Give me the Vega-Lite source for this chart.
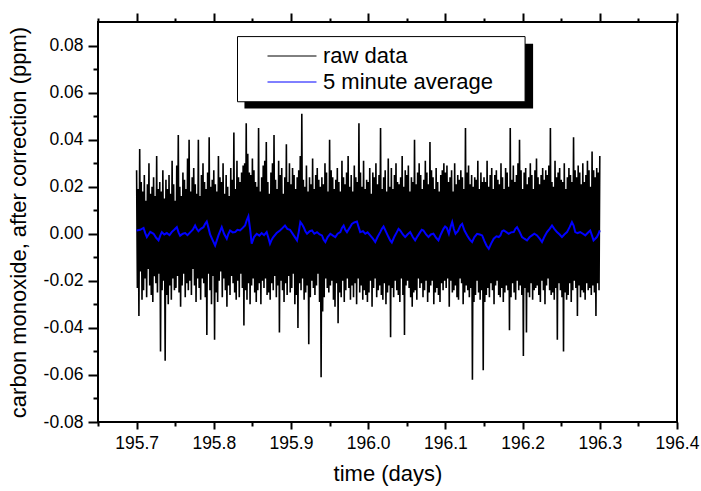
{
"$schema": "https://vega.github.io/schema/vega-lite/v6.json",
"width": 579, "height": 400,
"autosize": {"type": "none"},
"padding": {"left": 98, "top": 22, "right": 24, "bottom": 69},
"background": "white",
"config": {
 "font": "Liberation Sans",
 "view": {"stroke": "black", "strokeWidth": 2},
 "axis": {"labelFont": "Liberation Sans", "labelFontSize": 17.5, "labelColor": "black", "tickColor": "black", "tickWidth": 2, "grid": false, "domain": false, "titleFont": "Liberation Sans", "titleFontSize": 22, "titleFontWeight": "normal", "titleColor": "black", "labelOverlap": false, "labelFlush": false},
 "legend": {"labelFont": "Liberation Sans"}
},
"datasets": {
"raw": [
{"t":195.700,"v":0.027},{"t":195.701,"v":-0.023},{"t":195.702,"v":0.019},{"t":195.703,"v":-0.035},{"t":195.704,"v":0.036},{"t":195.705,"v":-0.016},{"t":195.706,"v":0.022},{"t":195.707,"v":-0.028},{"t":195.708,"v":0.018},{"t":195.709,"v":-0.024},
{"t":195.710,"v":0.025},{"t":195.711,"v":-0.019},{"t":195.712,"v":0.014},{"t":195.713,"v":-0.027},{"t":195.714,"v":0.021},{"t":195.715,"v":-0.015},{"t":195.716,"v":0.030},{"t":195.717,"v":-0.022},{"t":195.718,"v":0.017},{"t":195.719,"v":-0.026},
{"t":195.720,"v":0.020},{"t":195.721,"v":-0.029},{"t":195.722,"v":0.024},{"t":195.723,"v":-0.018},{"t":195.724,"v":0.016},{"t":195.725,"v":-0.021},{"t":195.726,"v":0.033},{"t":195.727,"v":-0.025},{"t":195.728,"v":0.019},{"t":195.729,"v":-0.017},
{"t":195.730,"v":0.022},{"t":195.731,"v":-0.050},{"t":195.732,"v":0.018},{"t":195.733,"v":-0.024},{"t":195.734,"v":0.027},{"t":195.735,"v":-0.020},{"t":195.736,"v":0.015},{"t":195.737,"v":-0.054},{"t":195.738,"v":0.023},{"t":195.739,"v":-0.026},
{"t":195.740,"v":0.019},{"t":195.741,"v":-0.030},{"t":195.742,"v":0.025},{"t":195.743,"v":-0.022},{"t":195.744,"v":0.017},{"t":195.745,"v":-0.028},{"t":195.746,"v":0.031},{"t":195.747,"v":-0.019},{"t":195.748,"v":0.021},{"t":195.749,"v":-0.024},
{"t":195.750,"v":0.014},{"t":195.751,"v":-0.023},{"t":195.752,"v":0.029},{"t":195.753,"v":-0.018},{"t":195.754,"v":0.042},{"t":195.755,"v":-0.025},{"t":195.756,"v":0.020},{"t":195.757,"v":-0.031},{"t":195.758,"v":0.016},{"t":195.759,"v":-0.022},
{"t":195.760,"v":0.026},{"t":195.761,"v":-0.017},{"t":195.762,"v":0.023},{"t":195.763,"v":-0.027},{"t":195.764,"v":0.019},{"t":195.765,"v":-0.021},{"t":195.766,"v":0.032},{"t":195.767,"v":-0.024},{"t":195.768,"v":0.040},{"t":195.769,"v":-0.020},
{"t":195.770,"v":0.018},{"t":195.771,"v":-0.026},{"t":195.772,"v":0.024},{"t":195.773,"v":-0.015},{"t":195.774,"v":0.028},{"t":195.775,"v":-0.022},{"t":195.776,"v":0.021},{"t":195.777,"v":-0.029},{"t":195.778,"v":0.017},{"t":195.779,"v":-0.019},
{"t":195.780,"v":0.040},{"t":195.781,"v":-0.023},{"t":195.782,"v":0.016},{"t":195.783,"v":-0.028},{"t":195.784,"v":0.025},{"t":195.785,"v":-0.019},{"t":195.786,"v":0.030},{"t":195.787,"v":-0.021},{"t":195.788,"v":0.022},{"t":195.789,"v":-0.027},
{"t":195.790,"v":0.019},{"t":195.791,"v":-0.043},{"t":195.792,"v":0.026},{"t":195.793,"v":-0.017},{"t":195.794,"v":0.041},{"t":195.795,"v":-0.024},{"t":195.796,"v":0.020},{"t":195.797,"v":-0.030},{"t":195.798,"v":0.023},{"t":195.799,"v":-0.018},
{"t":195.800,"v":0.027},{"t":195.801,"v":-0.045},{"t":195.802,"v":0.021},{"t":195.803,"v":-0.025},{"t":195.804,"v":0.018},{"t":195.805,"v":-0.029},{"t":195.806,"v":0.033},{"t":195.807,"v":-0.020},{"t":195.808,"v":0.024},{"t":195.809,"v":-0.016},
{"t":195.810,"v":0.022},{"t":195.811,"v":-0.027},{"t":195.812,"v":0.030},{"t":195.813,"v":-0.019},{"t":195.814,"v":0.017},{"t":195.815,"v":-0.024},{"t":195.816,"v":0.025},{"t":195.817,"v":-0.031},{"t":195.818,"v":0.020},{"t":195.819,"v":-0.022},
{"t":195.820,"v":0.016},{"t":195.821,"v":-0.026},{"t":195.822,"v":0.028},{"t":195.823,"v":-0.018},{"t":195.824,"v":0.023},{"t":195.825,"v":-0.021},{"t":195.826,"v":0.043},{"t":195.827,"v":-0.025},{"t":195.828,"v":0.019},{"t":195.829,"v":-0.028},
{"t":195.830,"v":0.031},{"t":195.831,"v":-0.020},{"t":195.832,"v":0.024},{"t":195.833,"v":-0.027},{"t":195.834,"v":0.022},{"t":195.835,"v":-0.017},{"t":195.836,"v":0.026},{"t":195.837,"v":-0.023},{"t":195.838,"v":0.029},{"t":195.839,"v":-0.039},
{"t":195.840,"v":0.030},{"t":195.841,"v":-0.024},{"t":195.842,"v":0.047},{"t":195.843,"v":-0.028},{"t":195.844,"v":0.034},{"t":195.845,"v":-0.021},{"t":195.846,"v":0.026},{"t":195.847,"v":-0.030},{"t":195.848,"v":0.025},{"t":195.849,"v":-0.022},
{"t":195.850,"v":0.032},{"t":195.851,"v":-0.019},{"t":195.852,"v":0.027},{"t":195.853,"v":-0.025},{"t":195.854,"v":0.022},{"t":195.855,"v":-0.029},{"t":195.856,"v":0.020},{"t":195.857,"v":-0.024},{"t":195.858,"v":0.045},{"t":195.859,"v":-0.021},
{"t":195.860,"v":0.018},{"t":195.861,"v":-0.030},{"t":195.862,"v":0.024},{"t":195.863,"v":-0.020},{"t":195.864,"v":0.029},{"t":195.865,"v":-0.023},{"t":195.866,"v":0.031},{"t":195.867,"v":-0.019},{"t":195.868,"v":0.039},{"t":195.869,"v":-0.026},
{"t":195.870,"v":0.022},{"t":195.871,"v":-0.025},{"t":195.872,"v":0.017},{"t":195.873,"v":-0.028},{"t":195.874,"v":0.026},{"t":195.875,"v":-0.021},{"t":195.876,"v":0.030},{"t":195.877,"v":-0.024},{"t":195.878,"v":0.042},{"t":195.879,"v":-0.018},
{"t":195.880,"v":0.023},{"t":195.881,"v":-0.027},{"t":195.882,"v":0.019},{"t":195.883,"v":-0.022},{"t":195.884,"v":0.031},{"t":195.885,"v":-0.042},{"t":195.886,"v":0.025},{"t":195.887,"v":-0.020},{"t":195.888,"v":0.028},{"t":195.889,"v":-0.024},
{"t":195.890,"v":0.017},{"t":195.891,"v":-0.029},{"t":195.892,"v":0.024},{"t":195.893,"v":-0.021},{"t":195.894,"v":0.038},{"t":195.895,"v":-0.026},{"t":195.896,"v":0.022},{"t":195.897,"v":-0.018},{"t":195.898,"v":0.030},{"t":195.899,"v":-0.025},
{"t":195.900,"v":0.021},{"t":195.901,"v":-0.023},{"t":195.902,"v":0.028},{"t":195.903,"v":-0.017},{"t":195.904,"v":0.025},{"t":195.905,"v":-0.030},{"t":195.906,"v":0.019},{"t":195.907,"v":-0.026},{"t":195.908,"v":0.024},{"t":195.909,"v":-0.040},
{"t":195.910,"v":0.027},{"t":195.911,"v":-0.021},{"t":195.912,"v":0.033},{"t":195.913,"v":-0.024},{"t":195.914,"v":0.051},{"t":195.915,"v":-0.019},{"t":195.916,"v":0.023},{"t":195.917,"v":-0.028},{"t":195.918,"v":0.020},{"t":195.919,"v":-0.025},
{"t":195.920,"v":0.029},{"t":195.921,"v":-0.022},{"t":195.922,"v":0.018},{"t":195.923,"v":-0.047},{"t":195.924,"v":0.024},{"t":195.925,"v":-0.027},{"t":195.926,"v":0.021},{"t":195.927,"v":-0.020},{"t":195.928,"v":0.032},{"t":195.929,"v":-0.023},
{"t":195.930,"v":0.019},{"t":195.931,"v":-0.026},{"t":195.932,"v":0.025},{"t":195.933,"v":-0.022},{"t":195.934,"v":0.028},{"t":195.935,"v":-0.017},{"t":195.936,"v":0.023},{"t":195.937,"v":-0.029},{"t":195.938,"v":0.020},{"t":195.939,"v":-0.061},
{"t":195.940,"v":0.024},{"t":195.941,"v":-0.033},{"t":195.942,"v":0.021},{"t":195.943,"v":-0.027},{"t":195.944,"v":0.030},{"t":195.945,"v":-0.019},{"t":195.946,"v":0.026},{"t":195.947,"v":-0.023},{"t":195.948,"v":0.018},{"t":195.949,"v":-0.025},
{"t":195.950,"v":0.040},{"t":195.951,"v":-0.022},{"t":195.952,"v":0.027},{"t":195.953,"v":-0.020},{"t":195.954,"v":0.024},{"t":195.955,"v":-0.028},{"t":195.956,"v":0.019},{"t":195.957,"v":-0.031},{"t":195.958,"v":0.023},{"t":195.959,"v":-0.021},
{"t":195.960,"v":0.028},{"t":195.961,"v":-0.038},{"t":195.962,"v":0.022},{"t":195.963,"v":-0.025},{"t":195.964,"v":0.018},{"t":195.965,"v":-0.027},{"t":195.966,"v":0.031},{"t":195.967,"v":-0.020},{"t":195.968,"v":0.024},{"t":195.969,"v":-0.029},
{"t":195.970,"v":0.021},{"t":195.971,"v":-0.024},{"t":195.972,"v":0.026},{"t":195.973,"v":-0.019},{"t":195.974,"v":0.033},{"t":195.975,"v":-0.023},{"t":195.976,"v":0.020},{"t":195.977,"v":-0.028},{"t":195.978,"v":0.025},{"t":195.979,"v":-0.022},
{"t":195.980,"v":0.018},{"t":195.981,"v":-0.027},{"t":195.982,"v":0.029},{"t":195.983,"v":-0.021},{"t":195.984,"v":0.024},{"t":195.985,"v":-0.030},{"t":195.986,"v":0.022},{"t":195.987,"v":-0.019},{"t":195.988,"v":0.047},{"t":195.989,"v":-0.025},
{"t":195.990,"v":0.026},{"t":195.991,"v":-0.022},{"t":195.992,"v":0.020},{"t":195.993,"v":-0.028},{"t":195.994,"v":0.031},{"t":195.995,"v":-0.024},{"t":195.996,"v":0.019},{"t":195.997,"v":-0.026},{"t":195.998,"v":0.023},{"t":195.999,"v":-0.029},
{"t":196.000,"v":0.022},{"t":196.001,"v":-0.025},{"t":196.002,"v":0.028},{"t":196.003,"v":-0.020},{"t":196.004,"v":0.017},{"t":196.005,"v":-0.031},{"t":196.006,"v":0.026},{"t":196.007,"v":-0.023},{"t":196.008,"v":0.024},{"t":196.009,"v":-0.019},
{"t":196.010,"v":0.030},{"t":196.011,"v":-0.027},{"t":196.012,"v":0.021},{"t":196.013,"v":-0.024},{"t":196.014,"v":0.025},{"t":196.015,"v":-0.022},{"t":196.016,"v":0.045},{"t":196.017,"v":-0.026},{"t":196.018,"v":0.019},{"t":196.019,"v":-0.028},
{"t":196.020,"v":0.024},{"t":196.021,"v":-0.021},{"t":196.022,"v":0.027},{"t":196.023,"v":-0.030},{"t":196.024,"v":0.018},{"t":196.025,"v":-0.025},{"t":196.026,"v":0.032},{"t":196.027,"v":-0.022},{"t":196.028,"v":0.020},{"t":196.029,"v":-0.044},
{"t":196.030,"v":0.028},{"t":196.031,"v":-0.023},{"t":196.032,"v":0.019},{"t":196.033,"v":-0.027},{"t":196.034,"v":0.025},{"t":196.035,"v":-0.020},{"t":196.036,"v":0.030},{"t":196.037,"v":-0.024},{"t":196.038,"v":0.022},{"t":196.039,"v":-0.026},
{"t":196.040,"v":0.021},{"t":196.041,"v":-0.029},{"t":196.042,"v":0.024},{"t":196.043,"v":-0.019},{"t":196.044,"v":0.033},{"t":196.045,"v":-0.026},{"t":196.046,"v":0.020},{"t":196.047,"v":-0.043},{"t":196.048,"v":0.027},{"t":196.049,"v":-0.022},
{"t":196.050,"v":0.025},{"t":196.051,"v":-0.020},{"t":196.052,"v":0.029},{"t":196.053,"v":-0.023},{"t":196.054,"v":0.018},{"t":196.055,"v":-0.027},{"t":196.056,"v":0.024},{"t":196.057,"v":-0.031},{"t":196.058,"v":0.022},{"t":196.059,"v":-0.025},
{"t":196.060,"v":0.040},{"t":196.061,"v":-0.024},{"t":196.062,"v":0.021},{"t":196.063,"v":-0.028},{"t":196.064,"v":0.026},{"t":196.065,"v":-0.019},{"t":196.066,"v":0.030},{"t":196.067,"v":-0.023},{"t":196.068,"v":0.025},{"t":196.069,"v":-0.021},
{"t":196.070,"v":0.019},{"t":196.071,"v":-0.027},{"t":196.072,"v":0.023},{"t":196.073,"v":-0.024},{"t":196.074,"v":0.031},{"t":196.075,"v":-0.020},{"t":196.076,"v":0.026},{"t":196.077,"v":-0.029},{"t":196.078,"v":0.021},{"t":196.079,"v":-0.025},
{"t":196.080,"v":0.039},{"t":196.081,"v":-0.022},{"t":196.082,"v":0.027},{"t":196.083,"v":-0.020},{"t":196.084,"v":0.024},{"t":196.085,"v":-0.030},{"t":196.086,"v":0.019},{"t":196.087,"v":-0.025},{"t":196.088,"v":0.028},{"t":196.089,"v":-0.023},
{"t":196.090,"v":0.022},{"t":196.091,"v":-0.026},{"t":196.092,"v":0.018},{"t":196.093,"v":-0.029},{"t":196.094,"v":0.025},{"t":196.095,"v":-0.021},{"t":196.096,"v":0.027},{"t":196.097,"v":-0.024},{"t":196.098,"v":0.030},{"t":196.099,"v":-0.020},
{"t":196.100,"v":0.026},{"t":196.101,"v":-0.023},{"t":196.102,"v":0.029},{"t":196.103,"v":-0.019},{"t":196.104,"v":0.022},{"t":196.105,"v":-0.031},{"t":196.106,"v":0.024},{"t":196.107,"v":-0.020},{"t":196.108,"v":0.027},{"t":196.109,"v":-0.025},
{"t":196.110,"v":0.018},{"t":196.111,"v":-0.024},{"t":196.112,"v":0.030},{"t":196.113,"v":-0.022},{"t":196.114,"v":0.021},{"t":196.115,"v":-0.027},{"t":196.116,"v":0.025},{"t":196.117,"v":-0.028},{"t":196.118,"v":0.023},{"t":196.119,"v":-0.019},
{"t":196.120,"v":0.027},{"t":196.121,"v":-0.021},{"t":196.122,"v":0.024},{"t":196.123,"v":-0.030},{"t":196.124,"v":0.019},{"t":196.125,"v":-0.025},{"t":196.126,"v":0.045},{"t":196.127,"v":-0.022},{"t":196.128,"v":0.026},{"t":196.129,"v":-0.024},
{"t":196.130,"v":0.029},{"t":196.131,"v":-0.027},{"t":196.132,"v":0.021},{"t":196.133,"v":-0.023},{"t":196.134,"v":0.025},{"t":196.135,"v":-0.062},{"t":196.136,"v":0.020},{"t":196.137,"v":-0.029},{"t":196.138,"v":0.024},{"t":196.139,"v":-0.026},
{"t":196.140,"v":0.023},{"t":196.141,"v":-0.020},{"t":196.142,"v":0.031},{"t":196.143,"v":-0.025},{"t":196.144,"v":0.019},{"t":196.145,"v":-0.028},{"t":196.146,"v":0.026},{"t":196.147,"v":-0.024},{"t":196.148,"v":0.022},{"t":196.149,"v":-0.058},
{"t":196.150,"v":0.024},{"t":196.151,"v":-0.029},{"t":196.152,"v":0.022},{"t":196.153,"v":-0.026},{"t":196.154,"v":0.031},{"t":196.155,"v":-0.023},{"t":196.156,"v":0.020},{"t":196.157,"v":-0.027},{"t":196.158,"v":0.025},{"t":196.159,"v":-0.021},
{"t":196.160,"v":0.028},{"t":196.161,"v":-0.024},{"t":196.162,"v":0.019},{"t":196.163,"v":-0.030},{"t":196.164,"v":0.025},{"t":196.165,"v":-0.022},{"t":196.166,"v":0.027},{"t":196.167,"v":-0.020},{"t":196.168,"v":0.023},{"t":196.169,"v":-0.026},
{"t":196.170,"v":0.021},{"t":196.171,"v":-0.027},{"t":196.172,"v":0.030},{"t":196.173,"v":-0.023},{"t":196.174,"v":0.024},{"t":196.175,"v":-0.029},{"t":196.176,"v":0.019},{"t":196.177,"v":-0.025},{"t":196.178,"v":0.028},{"t":196.179,"v":-0.022},
{"t":196.180,"v":0.026},{"t":196.181,"v":-0.024},{"t":196.182,"v":0.020},{"t":196.183,"v":-0.041},{"t":196.184,"v":0.045},{"t":196.185,"v":-0.027},{"t":196.186,"v":0.023},{"t":196.187,"v":-0.021},{"t":196.188,"v":0.029},{"t":196.189,"v":-0.025},
{"t":196.190,"v":0.022},{"t":196.191,"v":-0.028},{"t":196.192,"v":0.025},{"t":196.193,"v":-0.020},{"t":196.194,"v":0.030},{"t":196.195,"v":-0.024},{"t":196.196,"v":0.040},{"t":196.197,"v":-0.022},{"t":196.198,"v":0.027},{"t":196.199,"v":-0.026},
{"t":196.200,"v":0.019},{"t":196.201,"v":-0.052},{"t":196.202,"v":0.026},{"t":196.203,"v":-0.023},{"t":196.204,"v":0.028},{"t":196.205,"v":-0.042},{"t":196.206,"v":0.021},{"t":196.207,"v":-0.025},{"t":196.208,"v":0.024},{"t":196.209,"v":-0.027},
{"t":196.210,"v":0.030},{"t":196.211,"v":-0.021},{"t":196.212,"v":0.025},{"t":196.213,"v":-0.028},{"t":196.214,"v":0.019},{"t":196.215,"v":-0.024},{"t":196.216,"v":0.027},{"t":196.217,"v":-0.023},{"t":196.218,"v":0.032},{"t":196.219,"v":-0.022},
{"t":196.220,"v":0.024},{"t":196.221,"v":-0.026},{"t":196.222,"v":0.021},{"t":196.223,"v":-0.029},{"t":196.224,"v":0.025},{"t":196.225,"v":-0.020},{"t":196.226,"v":0.028},{"t":196.227,"v":-0.024},{"t":196.228,"v":0.023},{"t":196.229,"v":-0.030},
{"t":196.230,"v":0.027},{"t":196.231,"v":-0.022},{"t":196.232,"v":0.025},{"t":196.233,"v":-0.019},{"t":196.234,"v":0.029},{"t":196.235,"v":-0.024},{"t":196.236,"v":0.045},{"t":196.237,"v":-0.026},{"t":196.238,"v":0.022},{"t":196.239,"v":-0.025},
{"t":196.240,"v":0.020},{"t":196.241,"v":-0.028},{"t":196.242,"v":0.031},{"t":196.243,"v":-0.023},{"t":196.244,"v":0.024},{"t":196.245,"v":-0.045},{"t":196.246,"v":0.026},{"t":196.247,"v":-0.021},{"t":196.248,"v":0.028},{"t":196.249,"v":-0.024},
{"t":196.250,"v":0.023},{"t":196.251,"v":-0.027},{"t":196.252,"v":0.022},{"t":196.253,"v":-0.050},{"t":196.254,"v":0.030},{"t":196.255,"v":-0.025},{"t":196.256,"v":0.019},{"t":196.257,"v":-0.028},{"t":196.258,"v":0.024},{"t":196.259,"v":-0.026},
{"t":196.260,"v":0.028},{"t":196.261,"v":-0.021},{"t":196.262,"v":0.025},{"t":196.263,"v":-0.029},{"t":196.264,"v":0.022},{"t":196.265,"v":-0.024},{"t":196.266,"v":0.041},{"t":196.267,"v":-0.020},{"t":196.268,"v":0.027},{"t":196.269,"v":-0.023},
{"t":196.270,"v":0.024},{"t":196.271,"v":-0.035},{"t":196.272,"v":0.029},{"t":196.273,"v":-0.022},{"t":196.274,"v":0.026},{"t":196.275,"v":-0.027},{"t":196.276,"v":0.021},{"t":196.277,"v":-0.024},{"t":196.278,"v":0.030},{"t":196.279,"v":-0.025},
{"t":196.280,"v":0.022},{"t":196.281,"v":-0.028},{"t":196.282,"v":0.025},{"t":196.283,"v":-0.021},{"t":196.284,"v":0.031},{"t":196.285,"v":-0.024},{"t":196.286,"v":0.027},{"t":196.287,"v":-0.023},{"t":196.288,"v":0.020},{"t":196.289,"v":-0.026},
{"t":196.290,"v":0.035},{"t":196.291,"v":-0.022},{"t":196.292,"v":0.027},{"t":196.293,"v":-0.025},{"t":196.294,"v":0.024},{"t":196.295,"v":-0.035},{"t":196.296,"v":0.028},{"t":196.297,"v":-0.021},{"t":196.298,"v":0.026},{"t":196.299,"v":-0.024},
{"t":196.300,"v":0.033}
],
"avg": [
{"t":195.7000,"v":0.0014},{"t":195.7047,"v":0.0017},{"t":195.7090,"v":0.0025},{"t":195.7112,"v":0.0003},{"t":195.7133,"v":-0.0014},{"t":195.7155,"v":-0.0003},{"t":195.7177,"v":0.0008},{"t":195.7220,"v":0.0000},{"t":195.7254,"v":-0.0017},{"t":195.7284,"v":-0.0028},
{"t":195.7306,"v":-0.0008},{"t":195.7327,"v":0.0007},{"t":195.7358,"v":-0.0003},{"t":195.7392,"v":0.0003},{"t":195.7426,"v":-0.0006},{"t":195.7457,"v":0.0008},{"t":195.7487,"v":0.0017},{"t":195.7521,"v":0.0028},{"t":195.7543,"v":0.0006},{"t":195.7564,"v":-0.0008},
{"t":195.7599,"v":0.0000},{"t":195.7629,"v":0.0003},{"t":195.7659,"v":-0.0006},{"t":195.7694,"v":0.0006},{"t":195.7728,"v":0.0017},{"t":195.7758,"v":0.0035},{"t":195.7780,"v":0.0020},{"t":195.7801,"v":0.0011},{"t":195.7832,"v":0.0021},{"t":195.7866,"v":0.0028},
{"t":195.7888,"v":0.0042},{"t":195.7909,"v":0.0052},{"t":195.7931,"v":0.0025},{"t":195.7952,"v":-0.0003},{"t":195.7982,"v":-0.0025},{"t":195.8017,"v":-0.0050},{"t":195.8039,"v":-0.0028},{"t":195.8060,"v":-0.0007},{"t":195.8082,"v":0.0011},{"t":195.8103,"v":0.0028},
{"t":195.8133,"v":0.0000},{"t":195.8168,"v":-0.0021},{"t":195.8189,"v":0.0000},{"t":195.8211,"v":0.0014},{"t":195.8245,"v":0.0006},{"t":195.8276,"v":0.0007},{"t":195.8306,"v":0.0017},{"t":195.8340,"v":0.0014},{"t":195.8375,"v":0.0025},{"t":195.8405,"v":0.0035},
{"t":195.8426,"v":0.0057},{"t":195.8448,"v":0.0074},{"t":195.8470,"v":0.0021},{"t":195.8491,"v":-0.0042},{"t":195.8521,"v":-0.0014},{"t":195.8556,"v":0.0000},{"t":195.8590,"v":-0.0008},{"t":195.8620,"v":0.0003},{"t":195.8651,"v":-0.0006},{"t":195.8685,"v":0.0007},
{"t":195.8707,"v":-0.0017},{"t":195.8728,"v":-0.0042},{"t":195.8750,"v":-0.0025},{"t":195.8771,"v":-0.0014},{"t":195.8814,"v":0.0003},{"t":195.8857,"v":0.0014},{"t":195.8892,"v":0.0025},{"t":195.8922,"v":0.0035},{"t":195.8952,"v":0.0021},{"t":195.8987,"v":0.0017},
{"t":195.9035,"v":-0.0007},{"t":195.9078,"v":-0.0028},{"t":195.9100,"v":0.0007},{"t":195.9121,"v":0.0050},{"t":195.9143,"v":0.0040},{"t":195.9164,"v":0.0028},{"t":195.9186,"v":0.0011},{"t":195.9208,"v":0.0000},{"t":195.9242,"v":0.0011},{"t":195.9272,"v":0.0014},
{"t":195.9302,"v":0.0000},{"t":195.9337,"v":0.0007},{"t":195.9371,"v":-0.0003},{"t":195.9401,"v":-0.0007},{"t":195.9423,"v":-0.0025},{"t":195.9445,"v":-0.0035},{"t":195.9475,"v":-0.0014},{"t":195.9509,"v":0.0000},{"t":195.9544,"v":-0.0008},{"t":195.9574,"v":-0.0014},
{"t":195.9604,"v":0.0000},{"t":195.9639,"v":0.0007},{"t":195.9660,"v":0.0025},{"t":195.9682,"v":0.0035},{"t":195.9703,"v":0.0017},{"t":195.9725,"v":0.0007},{"t":195.9759,"v":0.0025},{"t":195.9789,"v":0.0042},{"t":195.9819,"v":0.0048},{"t":195.9854,"v":0.0052},
{"t":195.9876,"v":0.0028},{"t":195.9897,"v":0.0007},{"t":195.9932,"v":0.0011},{"t":195.9962,"v":0.0000},{"t":195.9992,"v":0.0006},{"t":196.0026,"v":-0.0007},{"t":196.0061,"v":-0.0021},{"t":196.0091,"v":-0.0035},{"t":196.0121,"v":-0.0014},{"t":196.0156,"v":0.0007},
{"t":196.0177,"v":0.0021},{"t":196.0199,"v":0.0031},{"t":196.0233,"v":0.0007},{"t":196.0263,"v":-0.0014},{"t":196.0285,"v":-0.0028},{"t":196.0306,"v":-0.0037},{"t":196.0337,"v":-0.0014},{"t":196.0371,"v":0.0007},{"t":196.0393,"v":0.0021},{"t":196.0414,"v":0.0014},
{"t":196.0449,"v":-0.0003},{"t":196.0479,"v":-0.0014},{"t":196.0509,"v":-0.0003},{"t":196.0544,"v":0.0007},{"t":196.0578,"v":-0.0014},{"t":196.0608,"v":-0.0028},{"t":196.0638,"v":-0.0011},{"t":196.0673,"v":0.0007},{"t":196.0694,"v":0.0017},{"t":196.0716,"v":0.0014},
{"t":196.0750,"v":-0.0003},{"t":196.0781,"v":-0.0014},{"t":196.0811,"v":-0.0003},{"t":196.0845,"v":0.0000},{"t":196.0880,"v":-0.0017},{"t":196.0910,"v":-0.0028},{"t":196.0940,"v":-0.0003},{"t":196.0975,"v":0.0021},{"t":196.0996,"v":0.0031},{"t":196.1018,"v":0.0025},
{"t":196.1045,"v":0.0000},{"t":196.1066,"v":0.0028},{"t":196.1088,"v":0.0050},{"t":196.1109,"v":0.0021},{"t":196.1131,"v":0.0000},{"t":196.1161,"v":0.0011},{"t":196.1195,"v":0.0035},{"t":196.1217,"v":0.0042},{"t":196.1247,"v":0.0014},{"t":196.1282,"v":-0.0007},
{"t":196.1316,"v":-0.0025},{"t":196.1346,"v":-0.0035},{"t":196.1376,"v":-0.0014},{"t":196.1411,"v":0.0000},{"t":196.1445,"v":-0.0003},{"t":196.1476,"v":-0.0007},{"t":196.1506,"v":-0.0031},{"t":196.1532,"v":-0.0050},{"t":196.1562,"v":-0.0064},{"t":196.1592,"v":-0.0042},
{"t":196.1626,"v":-0.0021},{"t":196.1661,"v":-0.0011},{"t":196.1691,"v":-0.0014},{"t":196.1713,"v":-0.0007},{"t":196.1734,"v":0.0011},{"t":196.1756,"v":0.0014},{"t":196.1790,"v":0.0007},{"t":196.1820,"v":0.0000},{"t":196.1850,"v":0.0006},{"t":196.1885,"v":0.0007},
{"t":196.1907,"v":0.0021},{"t":196.1928,"v":0.0028},{"t":196.1963,"v":0.0007},{"t":196.1993,"v":-0.0014},{"t":196.2023,"v":-0.0021},{"t":196.2057,"v":-0.0028},{"t":196.2092,"v":-0.0014},{"t":196.2122,"v":-0.0007},{"t":196.2152,"v":0.0000},{"t":196.2187,"v":-0.0007},
{"t":196.2221,"v":-0.0021},{"t":196.2251,"v":-0.0035},{"t":196.2281,"v":-0.0014},{"t":196.2316,"v":0.0007},{"t":196.2350,"v":0.0021},{"t":196.2381,"v":0.0035},{"t":196.2411,"v":0.0021},{"t":196.2445,"v":0.0007},{"t":196.2480,"v":-0.0003},{"t":196.2510,"v":-0.0014},
{"t":196.2540,"v":-0.0003},{"t":196.2575,"v":0.0007},{"t":196.2609,"v":0.0028},{"t":196.2639,"v":0.0050},{"t":196.2661,"v":0.0035},{"t":196.2682,"v":0.0007},{"t":196.2712,"v":0.0003},{"t":196.2747,"v":0.0007},{"t":196.2781,"v":0.0000},{"t":196.2812,"v":-0.0007},
{"t":196.2842,"v":0.0003},{"t":196.2876,"v":0.0014},{"t":196.2898,"v":-0.0007},{"t":196.2919,"v":-0.0028},{"t":196.2941,"v":-0.0021},{"t":196.2962,"v":-0.0014},{"t":196.2984,"v":0.0000},{"t":196.3000,"v":0.0014}
],
"shadow": [{"x1":195.8397,"x2":196.2136,"y1":0.0532,"y2":0.0808}],
"box": [{"x1":195.8307,"x2":196.2032,"y1":0.0561,"y2":0.0838}]
},
"layer": [
 {"data": {"name": "raw"},
  "mark": {"type": "line", "strokeWidth": 1.6, "strokeJoin": "bevel"},
  "encoding": {
   "x": {"field": "t", "type": "quantitative", "scale": {"domain": [195.65, 196.4], "nice": false, "zero": false},
         "axis": {"orient": "bottom", "values": [195.7,195.8,195.9,196.0,196.1,196.2,196.3,196.4], "format": ".1f", "tickSize": 7, "labelPadding": 5, "title": "time (days)", "titlePadding": 12}},
   "y": {"field": "v", "type": "quantitative", "scale": {"domain": [-0.08, 0.09], "nice": false, "zero": false},
         "axis": {"orient": "left", "values": [-0.08,-0.06,-0.04,-0.02,0,0.02,0.04,0.06,0.08], "format": ".2f", "labelExpr": "replace(datum.label, '−', '-')", "tickSize": 10, "labelPadding": 5, "title": "carbon monoxide, after correction (ppm)", "titlePadding": 13}},
   "color": {"datum": "raw data", "type": "nominal",
     "scale": {"domain": ["raw data", "5 minute average"], "range": ["black", "#0000ff"]},
     "legend": {"orient": "none", "legendX": 169, "legendY": 21.5, "title": null, "labelFontSize": 22, "labelColor": "black", "labelLimit": 400, "symbolType": "stroke", "symbolSize": 2400, "symbolStrokeWidth": 1, "clipHeight": 25, "rowPadding": 1, "padding": 0, "labelOffset": 6}}
  }},
 {"data": {"name": "avg"},
  "mark": {"type": "line", "strokeWidth": 2},
  "encoding": {
   "x": {"field": "t", "type": "quantitative", "scale": {"domain": [195.65, 196.4], "nice": false, "zero": false},
         "axis": {"orient": "bottom", "values": [195.65,195.75,195.85,195.95,196.05,196.15,196.25,196.35], "tickSize": 4, "labels": false, "title": null}},
   "y": {"field": "v", "type": "quantitative", "scale": {"domain": [-0.08, 0.09], "nice": false, "zero": false},
         "axis": {"orient": "left", "values": [-0.07,-0.05,-0.03,-0.01,0.01,0.03,0.05,0.07], "tickSize": 5, "labels": false, "title": null}},
   "color": {"datum": "5 minute average", "type": "nominal"}
  }},
 {"data": {"name": "shadow"},
  "mark": {"type": "rect", "fill": "black"},
  "encoding": {
   "x": {"field": "x1", "type": "quantitative", "scale": {"domain": [195.65, 196.4], "nice": false, "zero": false},
         "axis": {"orient": "top", "values": [195.7,195.8,195.9,196.0,196.1,196.2,196.3,196.4], "tickSize": 9, "labels": false, "title": null}},
   "x2": {"field": "x2"},
   "y": {"field": "y1", "type": "quantitative", "scale": {"domain": [-0.08, 0.09], "nice": false, "zero": false}, "axis": null},
   "y2": {"field": "y2"}
  }},
 {"data": {"name": "box"},
  "mark": {"type": "rect", "fill": "white", "stroke": "black", "strokeWidth": 1},
  "encoding": {
   "x": {"field": "x1", "type": "quantitative", "scale": {"domain": [195.65, 196.4], "nice": false, "zero": false},
         "axis": {"orient": "top", "values": [195.65,195.75,195.85,195.95,196.05,196.15,196.25,196.35], "tickSize": 4, "labels": false, "title": null}},
   "x2": {"field": "x2"},
   "y": {"field": "y1", "type": "quantitative", "scale": {"domain": [-0.08, 0.09], "nice": false, "zero": false}, "axis": null},
   "y2": {"field": "y2"}
  }}
],
"resolve": {"axis": {"x": "independent", "y": "independent"}}
}
